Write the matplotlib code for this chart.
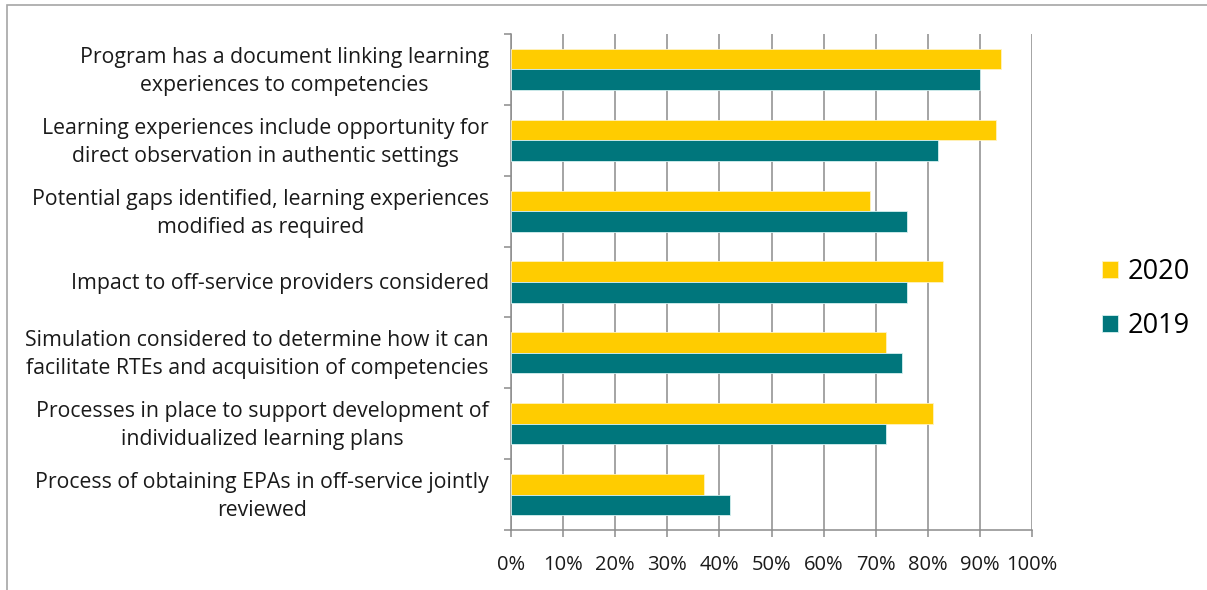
import numpy as np
import matplotlib.pyplot as plt
import matplotlib.transforms as mtransforms
from matplotlib.patches import Rectangle
from matplotlib.ticker import PercentFormatter

plt.rcParams['font.family'] = ['Open Sans', 'DejaVu Sans']

categorias = [
    "Program has a document linking learning\nexperiences to competencies",
    "Learning experiences include opportunity for\ndirect observation in authentic settings",
    "Potential gaps identified, learning experiences\nmodified as required",
    "Impact to off-service providers considered",
    "Simulation considered to determine how it can\nfacilitate RTEs and acquisition of competencies",
    "Processes in place to support development of\nindividualized learning plans",
    "Process of obtaining EPAs in off-service jointly\nreviewed",
]
v2020 = [94, 93, 69, 83, 72, 81, 37]
v2019 = [90, 82, 76, 76, 75, 72, 42]

amarillo = '#FFCC00'
verde = '#00767C'
gris = '#8C8C8C'

fig = plt.figure(figsize=(12.07, 5.90), dpi=100)
ax = fig.add_axes([511/1207, 60/590, 521/1207, 496/590])

n = len(categorias)
y = np.arange(n)
h = 0.29
ax.barh(y - h/2, v2020, height=h, color=amarillo, edgecolor='#FFF3C0', lw=0.6, label='2020', zorder=3)
ax.barh(y + h/2, v2019, height=h, color=verde, edgecolor='#D6F0F0', lw=0.6, label='2019', zorder=3)

ax.set_xlim(0, 100)
ax.set_ylim(n - 0.5, -0.5)
ax.set_xticks(np.arange(0, 101, 10))
ax.xaxis.set_major_formatter(PercentFormatter(decimals=0))
ax.grid(axis='x', color=gris, lw=1.1, zorder=0)

# separadores de categoria en el eje y
ax.set_yticks(np.arange(-0.5, n, 1))
ax.set_yticklabels([])
ax.tick_params(axis='y', which='major', length=5, color=gris, width=1.1)
ax.tick_params(axis='x', length=5, color=gris, width=1.1, labelsize=14.5, labelcolor='#1a1a1a', pad=13)

# etiquetas de categoria, centradas por linea
trans = mtransforms.offset_copy(ax.get_yaxis_transform(), fig=fig, x=-22, y=-2, units='dots')
for yi, cat in zip(y, categorias):
    ax.text(0, yi, cat, transform=trans, ha='right', va='center', multialignment='center',
            fontsize=15.3, color='#1a1a1a', linespacing=1.45)

for s in ['top', 'right']:
    ax.spines[s].set_visible(False)
for s in ['left', 'bottom']:
    ax.spines[s].set_color(gris)
    ax.spines[s].set_linewidth(1.1)

fig.legend(loc='center left', bbox_to_anchor=(1091/1207, 1 - 299/590), frameon=False,
           fontsize=19.5, handlelength=0.6, handleheight=0.6, handletextpad=0.35,
           labelspacing=0.95, borderaxespad=0)

fig.patches.append(Rectangle((7/1207, -0.1), 1.2, 1 - 5/590 + 0.1, transform=fig.transFigure,
                             fill=False, edgecolor='#A6A6A6', lw=1.2))

fig.savefig('out.png', dpi=100)
